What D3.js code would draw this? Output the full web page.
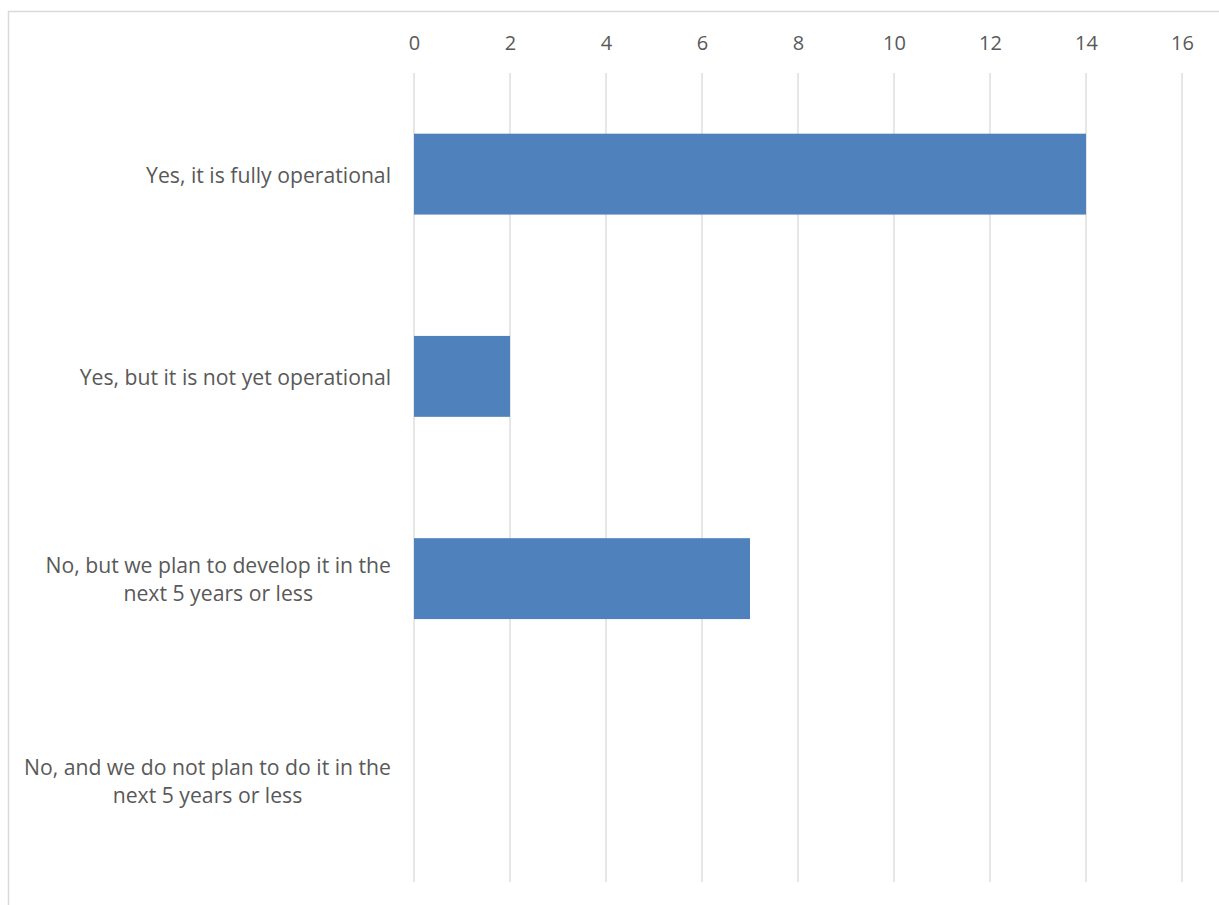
<!DOCTYPE html>
<html>
<head>
<meta charset="utf-8">
<script src="https://cdn.jsdelivr.net/npm/d3@7"></script>
<style>
  html, body { margin: 0; padding: 0; background: #fff; }
  svg { display: block; }
</style>
</head>
<body>
<svg id="chart" width="1219" height="905"></svg>
<script>
// Survey responses (horizontal bar chart, value axis on top)
const categories = [
  "Yes, it is fully operational",
  "Yes, but it is not yet operational",
  "No, but we plan to develop it in the\nnext 5 years or less",
  "No, and we do not plan to do it in the\nnext 5 years or less"
];
const values = [14, 2, 7, 0];
const tickValues = [0, 2, 4, 6, 8, 10, 12, 14, 16];

const svg = d3.select("#chart");
const W = 1219, H = 905;
const plot = { left: 414, right: 1182, top: 73, bottom: 882 };
const fontFamily = "'Open Sans', 'Liberation Sans', sans-serif";
const textColor = "#595959";
const gridColor = "#d9d9d9";
const barColor = "#4f81bd";

// Chart area outline
svg.append("rect")
  .attr("x", 8.5).attr("y", 11.5)
  .attr("width", W + 20).attr("height", H + 20)
  .attr("fill", "none")
  .attr("stroke", gridColor)
  .attr("stroke-width", 1.5);

const x = d3.scaleLinear().domain([0, 16]).range([plot.left, plot.right]);
const y = d3.scaleBand()
  .domain(categories)
  .range([plot.top, plot.bottom])
  .paddingInner(0.6)
  .paddingOuter(0.3);

// Vertical gridlines
svg.append("g")
  .selectAll("line")
  .data(tickValues)
  .join("line")
  .attr("x1", d => x(d)).attr("x2", d => x(d))
  .attr("y1", plot.top).attr("y2", plot.bottom)
  .attr("stroke", gridColor)
  .attr("stroke-width", 1.3);

// Top value axis labels
const axis = d3.axisTop(x).tickValues(tickValues).tickSize(0).tickPadding(0);
const axisG = svg.append("g")
  .attr("transform", `translate(0, 50)`)
  .call(axis);
axisG.select(".domain").remove();
axisG.selectAll("text")
  .attr("font-family", fontFamily)
  .attr("font-size", 20)
  .attr("fill", textColor);

// Bars
svg.append("g")
  .selectAll("rect")
  .data(categories.map((c, i) => ({ c, v: values[i] })))
  .join("rect")
  .attr("x", x(0))
  .attr("y", d => y(d.c))
  .attr("width", d => x(d.v) - x(0))
  .attr("height", y.bandwidth())
  .attr("fill", barColor);

// Category labels: multi-line labels are centred on their widest line,
// with the block right-aligned against the plot
const labelRight = 391;
const lineH = 28;
const labelG = svg.append("g");
categories.forEach(c => {
  const lines = c.split("\n");
  const cy = y(c) + y.bandwidth() / 2;
  const t = labelG.append("text")
    .attr("font-family", fontFamily)
    .attr("font-size", 21.2)
    .attr("fill", textColor)
    .attr("text-anchor", "middle");
  const spans = lines.map((ln, i) => t.append("tspan")
    .text(ln)
    .attr("y", cy + (i - (lines.length - 1) / 2) * lineH)
    .attr("dominant-baseline", "central"));
  const widest = d3.max(spans, s => s.node().getComputedTextLength());
  spans.forEach(s => s.attr("x", labelRight - widest / 2));
});
</script>
</body>
</html>
